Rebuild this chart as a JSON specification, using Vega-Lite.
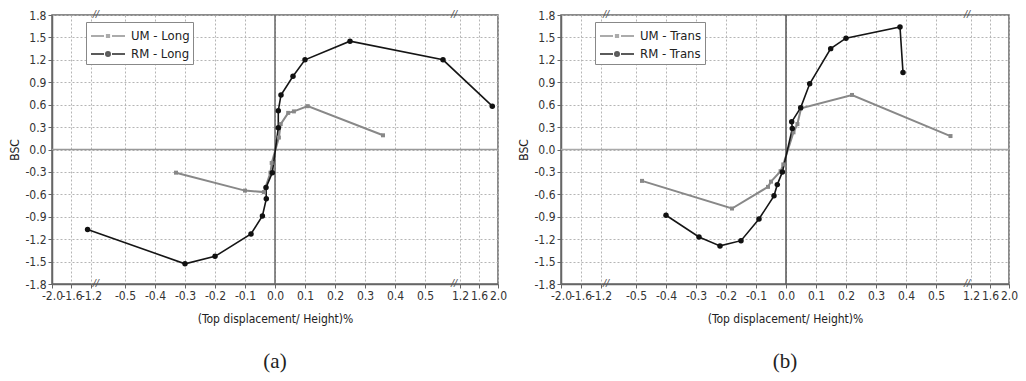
{
  "$schema": "https://vega.github.io/schema/vega-lite/v6.json",
  "background": "white",
  "padding": {"left": 8, "top": 8, "right": 5, "bottom": 5},
  "datasets": {
    "d": [
      {"panel": "a", "s": "UM - Long", "i": 1, "x": -0.33, "y": -0.31},
      {"panel": "a", "s": "UM - Long", "i": 2, "x": -0.10, "y": -0.55},
      {"panel": "a", "s": "UM - Long", "i": 3, "x": -0.037, "y": -0.57},
      {"panel": "a", "s": "UM - Long", "i": 4, "x": -0.015, "y": -0.31},
      {"panel": "a", "s": "UM - Long", "i": 5, "x": -0.011, "y": -0.18},
      {"panel": "a", "s": "UM - Long", "i": 6, "x": 0.013, "y": 0.16},
      {"panel": "a", "s": "UM - Long", "i": 7, "x": 0.019, "y": 0.34},
      {"panel": "a", "s": "UM - Long", "i": 8, "x": 0.044, "y": 0.49},
      {"panel": "a", "s": "UM - Long", "i": 9, "x": 0.063, "y": 0.51},
      {"panel": "a", "s": "UM - Long", "i": 10, "x": 0.109, "y": 0.58},
      {"panel": "a", "s": "UM - Long", "i": 11, "x": 0.36, "y": 0.19},
      {"panel": "a", "s": "RM - Long", "i": 1, "x": -1.27, "y": -1.07},
      {"panel": "a", "s": "RM - Long", "i": 2, "x": -0.30, "y": -1.53},
      {"panel": "a", "s": "RM - Long", "i": 3, "x": -0.20, "y": -1.43},
      {"panel": "a", "s": "RM - Long", "i": 4, "x": -0.08, "y": -1.13},
      {"panel": "a", "s": "RM - Long", "i": 5, "x": -0.042, "y": -0.89},
      {"panel": "a", "s": "RM - Long", "i": 6, "x": -0.029, "y": -0.66},
      {"panel": "a", "s": "RM - Long", "i": 7, "x": -0.030, "y": -0.51},
      {"panel": "a", "s": "RM - Long", "i": 8, "x": -0.009, "y": -0.31},
      {"panel": "a", "s": "RM - Long", "i": 9, "x": 0.011, "y": 0.29},
      {"panel": "a", "s": "RM - Long", "i": 10, "x": 0.011, "y": 0.52},
      {"panel": "a", "s": "RM - Long", "i": 11, "x": 0.02, "y": 0.73},
      {"panel": "a", "s": "RM - Long", "i": 12, "x": 0.06, "y": 0.98},
      {"panel": "a", "s": "RM - Long", "i": 13, "x": 0.10, "y": 1.20},
      {"panel": "a", "s": "RM - Long", "i": 14, "x": 0.25, "y": 1.45},
      {"panel": "a", "s": "RM - Long", "i": 15, "x": 0.86, "y": 1.20},
      {"panel": "a", "s": "RM - Long", "i": 16, "x": 1.88, "y": 0.58},
      {"panel": "b", "s": "UM - Trans", "i": 1, "x": -0.48, "y": -0.42},
      {"panel": "b", "s": "UM - Trans", "i": 2, "x": -0.18, "y": -0.79},
      {"panel": "b", "s": "UM - Trans", "i": 3, "x": -0.06, "y": -0.50},
      {"panel": "b", "s": "UM - Trans", "i": 4, "x": -0.05, "y": -0.43},
      {"panel": "b", "s": "UM - Trans", "i": 5, "x": -0.018, "y": -0.29},
      {"panel": "b", "s": "UM - Trans", "i": 6, "x": -0.009, "y": -0.20},
      {"panel": "b", "s": "UM - Trans", "i": 7, "x": 0.025, "y": 0.23},
      {"panel": "b", "s": "UM - Trans", "i": 8, "x": 0.038, "y": 0.34},
      {"panel": "b", "s": "UM - Trans", "i": 9, "x": 0.05, "y": 0.55},
      {"panel": "b", "s": "UM - Trans", "i": 10, "x": 0.22, "y": 0.73},
      {"panel": "b", "s": "UM - Trans", "i": 11, "x": 0.79, "y": 0.18},
      {"panel": "b", "s": "RM - Trans", "i": 1, "x": -0.40, "y": -0.88},
      {"panel": "b", "s": "RM - Trans", "i": 2, "x": -0.29, "y": -1.17},
      {"panel": "b", "s": "RM - Trans", "i": 3, "x": -0.22, "y": -1.29},
      {"panel": "b", "s": "RM - Trans", "i": 4, "x": -0.15, "y": -1.22},
      {"panel": "b", "s": "RM - Trans", "i": 5, "x": -0.09, "y": -0.93},
      {"panel": "b", "s": "RM - Trans", "i": 6, "x": -0.04, "y": -0.62},
      {"panel": "b", "s": "RM - Trans", "i": 7, "x": -0.029, "y": -0.47},
      {"panel": "b", "s": "RM - Trans", "i": 8, "x": -0.012, "y": -0.30},
      {"panel": "b", "s": "RM - Trans", "i": 9, "x": 0.021, "y": 0.28},
      {"panel": "b", "s": "RM - Trans", "i": 10, "x": 0.019, "y": 0.37},
      {"panel": "b", "s": "RM - Trans", "i": 11, "x": 0.049, "y": 0.56},
      {"panel": "b", "s": "RM - Trans", "i": 12, "x": 0.079, "y": 0.88},
      {"panel": "b", "s": "RM - Trans", "i": 13, "x": 0.149, "y": 1.35},
      {"panel": "b", "s": "RM - Trans", "i": 14, "x": 0.20, "y": 1.49},
      {"panel": "b", "s": "RM - Trans", "i": 15, "x": 0.38, "y": 1.64},
      {"panel": "b", "s": "RM - Trans", "i": 16, "x": 0.39, "y": 1.03}
    ]
  },
  "hconcat": [
    {
      "width": 446,
      "height": 269,
      "title": {"text": "(a)"},
      "data": {"name": "d"},
      "transform": [{"filter": "datum.panel === 'a'"}],
      "encoding": {
        "x": {"field": "x", "type": "quantitative", "title": "(Top displacement/ Height)%",
          "scale": {"domain": [-2, -1.2, -0.5, 0.5, 1.2, 2], "range": [0, 39, 73, 373, 408, 446], "nice": false, "zero": false},
          "axis": {"values": [-2, -1.6, -1.2, -0.5, -0.4, -0.3, -0.2, -0.1, 0, 0.1, 0.2, 0.3, 0.4, 0.5, 1.2, 1.6, 2], "labelExpr": "replace(format(datum.value, '.1f'), '\u2212', '-')", "labelOverlap": false, "labelFlush": false, "labelBound": false, "titlePadding": 12}},
        "y": {"field": "y", "type": "quantitative", "title": "BSC",
          "scale": {"domain": [-1.8, 1.8], "nice": false, "zero": false},
          "axis": {"values": [-1.8, -1.5, -1.2, -0.9, -0.6, -0.3, 0, 0.3, 0.6, 0.9, 1.2, 1.5, 1.8], "labelExpr": "replace(format(datum.value, '.1f'), '\u2212', '-')", "labelOverlap": false, "titlePadding": 3}}
      },
      "layer": [
        {
          "data": {"values": [{"x": -2, "x2": 2, "y": 0}]},
          "mark": {"type": "rule", "color": "#999999", "strokeWidth": 1.5},
          "encoding": {"x2": {"field": "x2"}}
        },
        {
          "data": {"values": [{"x": 0, "y": -1.8, "y2": 1.8}]},
          "mark": {"type": "rule", "color": "#666666", "strokeWidth": 1.5},
          "encoding": {"y2": {"field": "y2"}}
        },
        {
          "data": {"values": [{"x": -1.1, "y": 1.8}, {"x": -1.1, "y": -1.8}, {"x": 1.08, "y": 1.8}, {"x": 1.08, "y": -1.8}]},
          "mark": {"type": "text", "text": "//", "fontSize": 11, "fontStyle": "italic", "color": "#555555", "font": "Liberation Sans"},
          "encoding": {}
        },
        {
          "transform": [{"filter": "datum.s === 'UM - Long'"}],
          "mark": {"type": "line", "strokeWidth": 2, "color": "#888888"},
          "encoding": {"order": {"field": "i", "type": "quantitative"}}
        },
        {
          "transform": [{"filter": "datum.s === 'RM - Long'"}],
          "mark": {"type": "line", "strokeWidth": 1.6, "color": "#151515"},
          "encoding": {"order": {"field": "i", "type": "quantitative"}}
        },
        {
          "transform": [{"filter": "datum.s === 'UM - Long'"}],
          "mark": {"type": "point", "shape": "square", "filled": true, "opacity": 1, "size": 16, "color": "#888888"}
        },
        {
          "transform": [{"filter": "datum.s === 'RM - Long'"}],
          "mark": {"type": "point", "shape": "circle", "filled": true, "opacity": 1, "size": 30, "color": "#111111"}
        },
        {
          "transform": [{"filter": "false"}],
          "mark": {"type": "point", "filled": false},
          "encoding": {
            "color": {"field": "s", "type": "nominal", "scale": {"domain": ["UM - Long", "RM - Long"], "range": ["#888888", "#151515"]},
              "legend": {"orient": "none", "legendX": 34, "legendY": 7, "title": null}},
            "shape": {"field": "s", "type": "nominal", "scale": {"domain": ["UM - Long", "RM - Long"], "range": ["M-1.7,0H-0.4M0.4,0H1.7M-0.11,-0.11H0.11V0.11H-0.11Z", "M-1.7,0H-0.4M0.4,0H1.7M0.2,0A0.2,0.2,0,1,1,-0.2,0A0.2,0.2,0,1,1,0.2,0ZM0.07,0A0.07,0.07,0,1,1,-0.07,0A0.07,0.07,0,1,1,0.07,0Z"]},
              "legend": {"orient": "none", "legendX": 34, "legendY": 7, "title": null}}
          }
        }
      ]
    },
    {
      "width": 448,
      "height": 269,
      "title": {"text": "(b)"},
      "data": {"name": "d"},
      "transform": [{"filter": "datum.panel === 'b'"}],
      "encoding": {
        "x": {"field": "x", "type": "quantitative", "title": "(Top displacement/ Height)%",
          "scale": {"domain": [-2, -1.2, -0.5, 0.5, 1.2, 2], "range": [0, 40, 75, 375, 410, 448], "nice": false, "zero": false},
          "axis": {"values": [-2, -1.6, -1.2, -0.5, -0.4, -0.3, -0.2, -0.1, 0, 0.1, 0.2, 0.3, 0.4, 0.5, 1.2, 1.6, 2], "labelExpr": "replace(format(datum.value, '.1f'), '\u2212', '-')", "labelOverlap": false, "labelFlush": false, "labelBound": false, "titlePadding": 12}},
        "y": {"field": "y", "type": "quantitative", "title": "BSC",
          "scale": {"domain": [-1.8, 1.8], "nice": false, "zero": false},
          "axis": {"values": [-1.8, -1.5, -1.2, -0.9, -0.6, -0.3, 0, 0.3, 0.6, 0.9, 1.2, 1.5, 1.8], "labelExpr": "replace(format(datum.value, '.1f'), '\u2212', '-')", "labelOverlap": false, "titlePadding": 3}}
      },
      "layer": [
        {
          "data": {"values": [{"x": -2, "x2": 2, "y": 0}]},
          "mark": {"type": "rule", "color": "#aaaaaa", "strokeWidth": 1.5},
          "encoding": {"x2": {"field": "x2"}}
        },
        {
          "data": {"values": [{"x": 0, "y": -1.8, "y2": 1.8}]},
          "mark": {"type": "rule", "color": "#555555", "strokeWidth": 1.5},
          "encoding": {"y2": {"field": "y2"}}
        },
        {
          "data": {"values": [{"x": -1.1, "y": 1.8}, {"x": -1.1, "y": -1.8}, {"x": 1.12, "y": 1.8}, {"x": 1.12, "y": -1.8}]},
          "mark": {"type": "text", "text": "//", "fontSize": 11, "fontStyle": "italic", "color": "#555555", "font": "Liberation Sans"},
          "encoding": {}
        },
        {
          "transform": [{"filter": "datum.s === 'UM - Trans'"}],
          "mark": {"type": "line", "strokeWidth": 2, "color": "#888888"},
          "encoding": {"order": {"field": "i", "type": "quantitative"}}
        },
        {
          "transform": [{"filter": "datum.s === 'RM - Trans'"}],
          "mark": {"type": "line", "strokeWidth": 1.6, "color": "#151515"},
          "encoding": {"order": {"field": "i", "type": "quantitative"}}
        },
        {
          "transform": [{"filter": "datum.s === 'UM - Trans'"}],
          "mark": {"type": "point", "shape": "square", "filled": true, "opacity": 1, "size": 16, "color": "#888888"}
        },
        {
          "transform": [{"filter": "datum.s === 'RM - Trans'"}],
          "mark": {"type": "point", "shape": "circle", "filled": true, "opacity": 1, "size": 30, "color": "#111111"}
        },
        {
          "transform": [{"filter": "false"}],
          "mark": {"type": "point", "filled": false},
          "encoding": {
            "color": {"field": "s", "type": "nominal", "scale": {"domain": ["UM - Trans", "RM - Trans"], "range": ["#888888", "#151515"]},
              "legend": {"orient": "none", "legendX": 34, "legendY": 7, "title": null}},
            "shape": {"field": "s", "type": "nominal", "scale": {"domain": ["UM - Trans", "RM - Trans"], "range": ["M-1.7,0H-0.4M0.4,0H1.7M-0.11,-0.11H0.11V0.11H-0.11Z", "M-1.7,0H-0.4M0.4,0H1.7M0.2,0A0.2,0.2,0,1,1,-0.2,0A0.2,0.2,0,1,1,0.2,0ZM0.07,0A0.07,0.07,0,1,1,-0.07,0A0.07,0.07,0,1,1,0.07,0Z"]},
              "legend": {"orient": "none", "legendX": 34, "legendY": 7, "title": null}}
          }
        }
      ]
    }
  ],
  "spacing": 63,
  "bounds": "flush",
  "resolve": {"scale": {"color": "independent", "shape": "independent"}},
  "config": {
    "view": {"stroke": "#666666", "strokeWidth": 1.5},
    "font": "Liberation Sans Narrow, DejaVu Sans Condensed, Liberation Sans",
    "axis": {
      "labelFont": "Liberation Sans Narrow, DejaVu Sans Condensed, Liberation Sans",
      "titleFont": "Liberation Sans Narrow, DejaVu Sans Condensed, Liberation Sans",
      "labelFontSize": 12, "titleFontSize": 12, "titleFontWeight": "normal",
      "labelColor": "#333333", "titleColor": "#222222",
      "domainColor": "#666666", "domainWidth": 1.5,
      "tickColor": "#666666", "tickSize": 4, "labelPadding": 2,
      "grid": true, "gridColor": "#b5b5b5", "gridDash": [2, 2], "gridWidth": 1
    },
    "legend": {
      "labelFont": "Liberation Sans Narrow, DejaVu Sans Condensed, Liberation Sans",
      "labelFontSize": 13, "labelColor": "#222222",
      "fillColor": "white", "strokeColor": "#888888", "padding": 3,
      "symbolSize": 400, "symbolStrokeWidth": 2, "labelOffset": 12, "rowPadding": 0, "symbolOffset": 8
    },
    "title": {"orient": "bottom", "anchor": "middle", "font": "Liberation Serif", "fontSize": 21, "fontWeight": "normal", "color": "#222222", "offset": 27}
  }
}
